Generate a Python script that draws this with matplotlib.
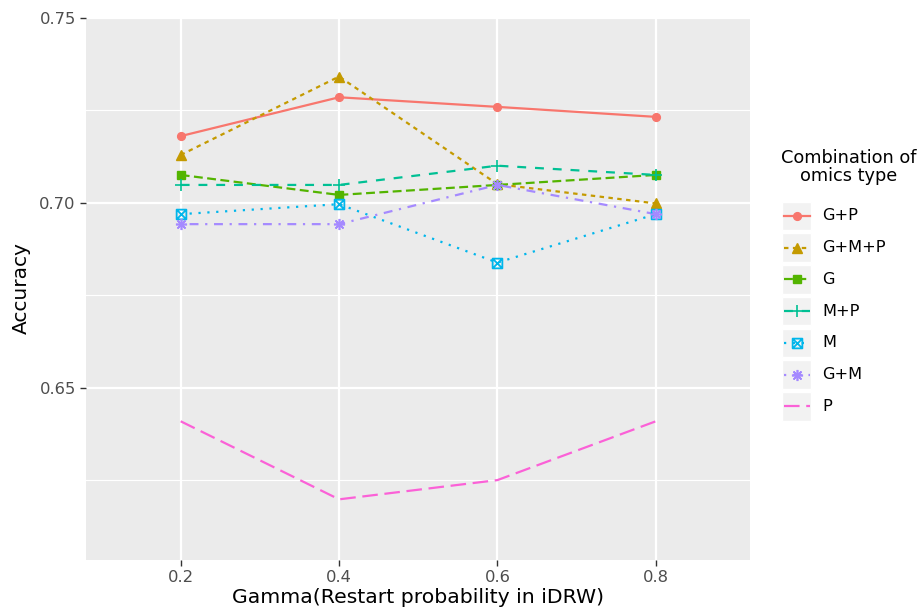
import matplotlib
matplotlib.use("Agg")
import matplotlib.pyplot as plt
from matplotlib.path import Path
from matplotlib.patches import Rectangle
from matplotlib.lines import Line2D

gamma = [0.2, 0.4, 0.6, 0.8]
series = ['G+P', 'G+M+P', 'G', 'M+P', 'M', 'G+M', 'P']
acc_gp = [0.7180, 0.7285, 0.7259, 0.7232]
acc_gmp = [0.7129, 0.7341, 0.7050, 0.6998]
acc_g = [0.7075, 0.7021, 0.7048, 0.7075]
acc_mp = [0.7048, 0.7048, 0.7100, 0.7075]
acc_m = [0.6969, 0.6996, 0.6838, 0.6969]
acc_gm = [0.6942, 0.6942, 0.7048, 0.6969]
acc_p = [0.6409, 0.6198, 0.6250, 0.6409]
values = [acc_gp, acc_gmp, acc_g, acc_mp, acc_m, acc_gm, acc_p]

# ggplot default hue palette and linetype / shape palettes
colors = ['#F8766D', '#C49A00', '#53B400', '#00C094', '#00B6EB', '#A58AFF', '#FB61D7']
dashes = [None, (2, 2), (4, 2), (4, 4), (1, 3), (1, 3, 4, 3), (7, 3)]

sqx = Path([(-1, -1), (1, -1), (1, 1), (-1, 1), (-1, -1),
            (-1, -1), (1, 1), (-1, 1), (1, -1)],
           [Path.MOVETO, Path.LINETO, Path.LINETO, Path.LINETO, Path.CLOSEPOLY,
            Path.MOVETO, Path.LINETO, Path.MOVETO, Path.LINETO])
markers = [
    dict(marker='o', ms=5.6),
    dict(marker='^', ms=7),
    dict(marker='s', ms=5.6),
    dict(marker='+', ms=8, mew=1.2),
    dict(marker=sqx, ms=7, mew=1.3, mfc='none'),
    dict(marker=(8, 2, 0), ms=8, mew=1.2),
    dict(marker=None),
]

W, H = 921, 612
fig = plt.figure(figsize=(W / 100, H / 100), dpi=100)
left, right, top, bottom = 86, 750, 17, 560
ax = fig.add_axes([left / W, 1 - bottom / H, (right - left) / W, (bottom - top) / H])
ax.set_facecolor('#EBEBEB')
for s in ax.spines.values():
    s.set_visible(False)

lw = 1.6
for name, y, c, d, m in zip(series, values, colors, dashes, markers):
    kw = dict(color=c, lw=lw, zorder=3)
    if d is not None:
        kw['dashes'] = d
    ax.plot(gamma, y, **kw)
    if m['marker'] is not None:
        ax.plot(gamma, y, ls='none', color=c, zorder=4, **m)

ax.set_xlim(0.0804, 0.919)
ax.set_ylim(0.6034, 0.7502)
ax.set_xticks(gamma)
ax.set_xticklabels(['0.2', '0.4', '0.6', '0.8'])
ax.set_yticks([0.65, 0.70, 0.75])
ax.set_yticklabels(['0.65', '0.70', '0.75'])
ax.set_yticks([0.625, 0.675, 0.725], minor=True)
ax.grid(which='major', color='white', lw=1.6, zorder=0)
ax.grid(which='minor', axis='y', color='white', lw=0.8, zorder=0)
ax.set_axisbelow(True)
ax.tick_params(which='major', length=4.3, width=1.0, color='#333333',
               labelsize=11.8, labelcolor='#4D4D4D', pad=3)
ax.tick_params(which='minor', length=0)

ax.set_xlabel('Gamma(Restart probability in iDRW)', fontsize=14.7, labelpad=2)
ax.set_ylabel('Accuracy', fontsize=14.5, labelpad=6)

# legend drawn in pixel coordinates
lax = fig.add_axes([0, 0, 1, 1])
lax.set_xlim(0, W)
lax.set_ylim(H, 0)
lax.axis('off')
lax.text(848.5, 167, 'Combination of\nomics type', ha='center', va='center',
         fontsize=12.8, linespacing=1.0)
pitch = 31.7
for i, (name, c, d, m) in enumerate(zip(series, colors, dashes, markers)):
    yc = 216 + i * pitch
    lax.add_patch(Rectangle((782, yc - 14.3), 29, 28.6, facecolor='#F2F2F2',
                            edgecolor='white', lw=1))
    kw = dict(color=c, lw=lw)
    if d is not None:
        kw['dashes'] = d
    lax.add_line(Line2D([784, 810], [yc, yc], **kw))
    if m['marker'] is not None:
        lax.add_line(Line2D([797], [yc], ls='none', color=c, **m))
    lax.text(822, yc, name, ha='left', va='center', fontsize=11.6)

fig.savefig('out.png', dpi=100)
